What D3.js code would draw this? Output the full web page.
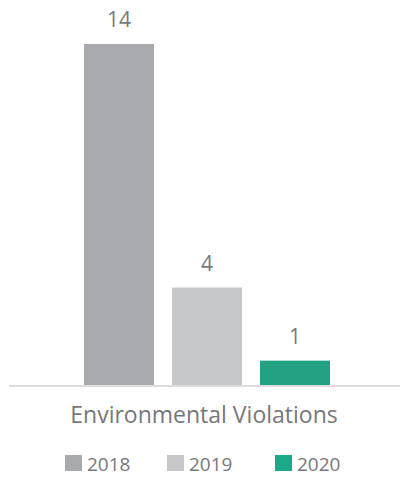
<!DOCTYPE html>
<html>
<head>
<meta charset="utf-8">
<script src="https://cdn.jsdelivr.net/npm/d3@7"></script>
<style>
  html, body { margin: 0; padding: 0; background: #fff; }
  svg { display: block; font-family: "Open Sans", sans-serif; }
</style>
</head>
<body>
<div id="chart"></div>
<script>
// data
const categories = ["Environmental Violations"];
const years = ["2018", "2019", "2020"];
const values = [14, 4, 1];
const colors = ["#a9aaad", "#c6c7c9", "#23a283"];
const legendColors = ["#a9aaad", "#c6c7c9", "#1aa98a"];

const width = 400;
const height = 477;
const margin = { top: 44, right: 0, bottom: 92, left: 14 };
const textColor = "#77787b";

const svg = d3.select("#chart").append("svg")
    .attr("width", width)
    .attr("height", height);

const baseY = height - margin.bottom;

const x0 = d3.scaleBand()
    .domain(categories)
    .range([margin.left, width - margin.right])
    .paddingInner(0)
    .paddingOuter(0.2846);

const x1 = d3.scaleBand()
    .domain(years)
    .range([0, x0.bandwidth()])
    .paddingInner(0.2045)
    .paddingOuter(0);

const y = d3.scaleLinear()
    .domain([0, d3.max(values)])
    .range([baseY, margin.top]);

const rows = years.map((yr, i) => ({ year: yr, value: values[i], color: colors[i] }));

const group = svg.append("g")
    .attr("transform", `translate(${x0(categories[0])},0)`);

group.selectAll("rect")
    .data(rows)
    .join("rect")
    .attr("x", d => x1(d.year))
    .attr("y", d => y(d.value))
    .attr("width", x1.bandwidth())
    .attr("height", d => baseY - y(d.value))
    .attr("fill", d => d.color);

group.selectAll("text.value")
    .data(rows)
    .join("text")
    .attr("class", "value")
    .attr("x", d => x1(d.year) + x1.bandwidth() / 2)
    .attr("y", d => y(d.value) - 17)
    .attr("text-anchor", "middle")
    .attr("fill", textColor)
    .attr("font-size", "21px")
    .text(d => d.value);

// baseline
svg.append("line")
    .attr("x1", 9)
    .attr("x2", width)
    .attr("y1", baseY + 1)
    .attr("y2", baseY + 1)
    .attr("stroke", "#dcdddf")
    .attr("stroke-width", 1.8);

// category label
svg.append("text")
    .attr("x", x0(categories[0]) + x0.bandwidth() / 2 - 3)
    .attr("y", baseY + 38)
    .attr("text-anchor", "middle")
    .attr("fill", textColor)
    .attr("font-size", "23px")
    .text(categories[0]);

// legend
const legendX = [65, 167, 275];
const legend = svg.append("g")
    .selectAll("g")
    .data(rows)
    .join("g")
    .attr("transform", (d, i) => `translate(${legendX[i]},455)`);

legend.append("rect")
    .attr("width", 17)
    .attr("height", 16)
    .attr("fill", (d, i) => legendColors[i]);

legend.append("text")
    .attr("x", 22)
    .attr("y", 16)
    .attr("fill", textColor)
    .attr("font-size", "19px")
    .text(d => d.year);
</script>
</body>
</html>
